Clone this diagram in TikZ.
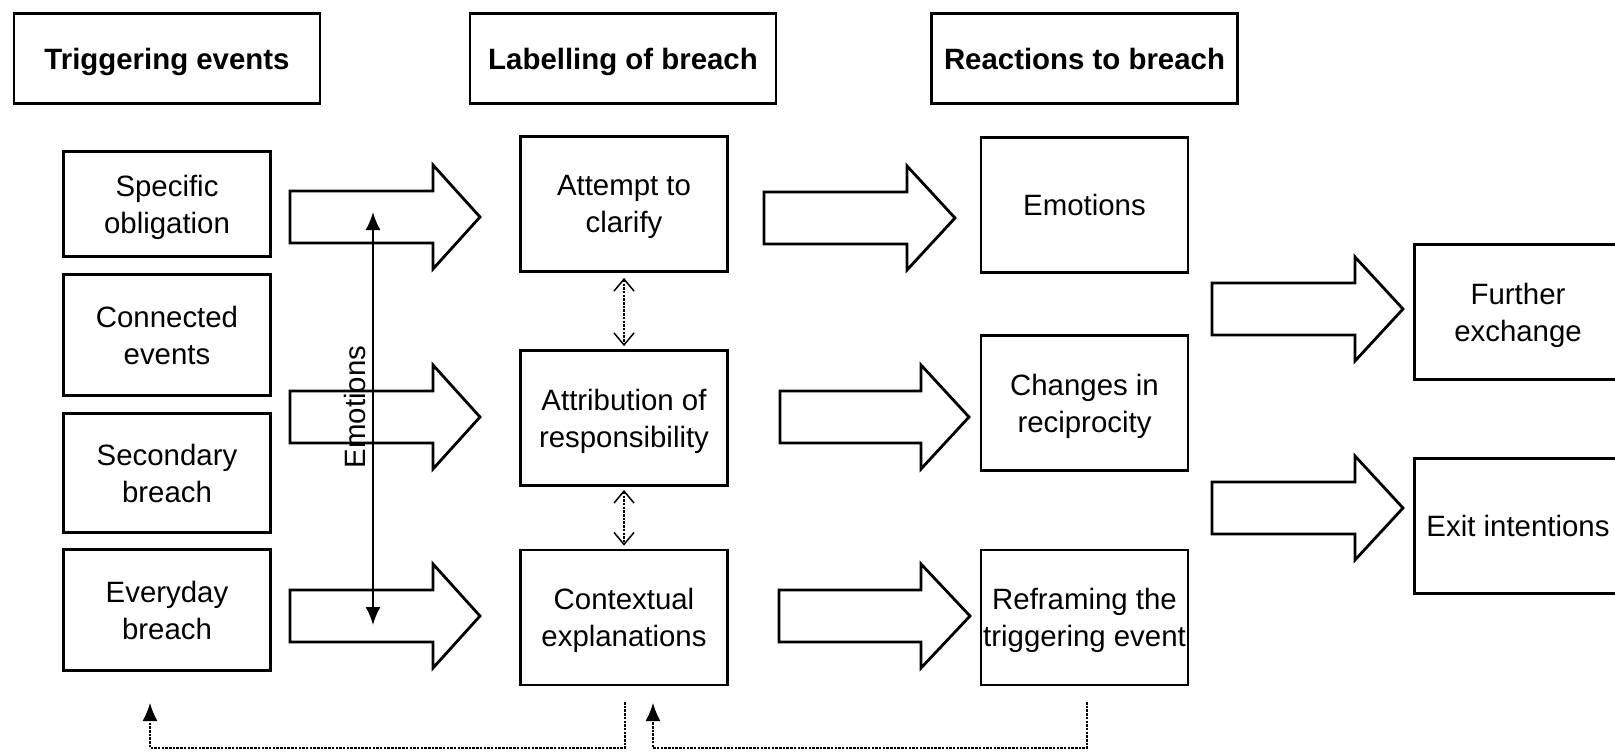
\documentclass[tikz,border=0pt]{standalone}
\usepackage{fontspec}
\setmainfont{Liberation Sans}
\usetikzlibrary{arrows.meta}

% Hollow block arrow: shaft from x=#1 to x=#2, tip at x=#3, centred on y=#4
\newcommand{\fatarrow}[4]{%
  \draw[fat] (#1,#4-26) -- (#2,#4-26) -- (#2,#4-52) -- (#3,#4)
    -- (#2,#4+52) -- (#2,#4+26) -- (#1,#4+26) -- cycle;}

\begin{document}
\begin{tikzpicture}[x=1pt,y=-1pt,
  every node/.style={font=\fontsize{29.4}{37}\selectfont},
  box/.style={draw, line width=2.8pt, align=center, inner sep=0pt,
    text depth=0pt, minimum width=207pt, minimum height=135pt},
  header/.style={box, font=\fontsize{29.4}{37}\selectfont\bfseries,
    minimum width=306pt, minimum height=90pt},
  fat/.style={draw, line width=2.8pt, fill=white, line join=miter},
  dotline/.style={line width=1.5pt, dash pattern=on 2.5pt off 1.2pt},
  solidtip/.style={line width=2pt},
  emtip/.tip={Latex[length=18pt,width=15pt]},
  barbtip/.tip={Straight Barb[length=12pt,width=20pt,line width=1.5pt]},
]
\useasboundingbox (0,0) rectangle (1615,752);

% column headers
\node[header] (h1) at (167,58.5) {Triggering events};
\node[header] (h2) at (623,58.5) {Labelling of breach};
\node[header] (h3) at (1084.5,58.5) {Reactions to breach};

% triggering events
\node[box, minimum height=105pt] (so) at (167,204) {Specific\\obligation};
\node[box, minimum height=121pt] (ce) at (167,335) {Connected\\events};
\node[box, minimum height=119pt] (sb) at (167,473) {Secondary\\breach};
\node[box, minimum height=121pt] (eb) at (167,610) {Everyday\\breach};

% labelling of breach
\node[box] (ac) at (624,204) {Attempt to\\clarify};
\node[box] (ar) at (624,418) {Attribution of\\responsibility};
\node[box] (cx) at (624,617.5) {Contextual\\explanations};

% reactions to breach
\node[box] (em) at (1084.5,205) {Emotions};
\node[box] (cr) at (1084.5,403) {Changes in\\reciprocity};
\node[box] (rf) at (1084.5,617.5) {Reframing the\\triggering event};

% outcomes
\node[box] (fe) at (1518,312) {Further\\exchange};
\node[box] (ei) at (1518,526) {Exit intentions};

% block arrows between the stages
\fatarrow{290}{433}{480}{217}
\fatarrow{290}{433}{480}{417}
\fatarrow{290}{433}{480}{616}
\fatarrow{764}{907}{955}{218}
\fatarrow{780}{921}{969}{417}
\fatarrow{779}{921}{970}{616}
\fatarrow{1212}{1355}{1403}{309}
\fatarrow{1212}{1355}{1403}{508}

% emotions running alongside the triggering events
\coordinate (emtop) at (373,212);
\coordinate (embot) at (373,625);
\draw[solidtip, emtip-emtip] (emtop) -- (embot);
\node[rotate=90, anchor=base, inner sep=0pt] (emlabel) at (365,407) {Emotions};

% links within the labelling stage
\draw[dotline, barbtip-barbtip, shorten <=5pt, shorten >=3pt] (ac.south) -- (ar.north);
\draw[dotline, barbtip-barbtip, shorten <=3pt, shorten >=3pt] (ar.south) -- (cx.north);

% feedback loops
\coordinate (cxout) at (625,702);
\coordinate (ebin) at (150,703);
\coordinate (rfout) at (1087,702);
\coordinate (cxin) at (653,703);
\draw[dotline, -emtip] (cxout) -- ++(0,46) -| (ebin);
\draw[dotline, -emtip] (rfout) -- ++(0,46) -| (cxin);
\end{tikzpicture}
\end{document}
